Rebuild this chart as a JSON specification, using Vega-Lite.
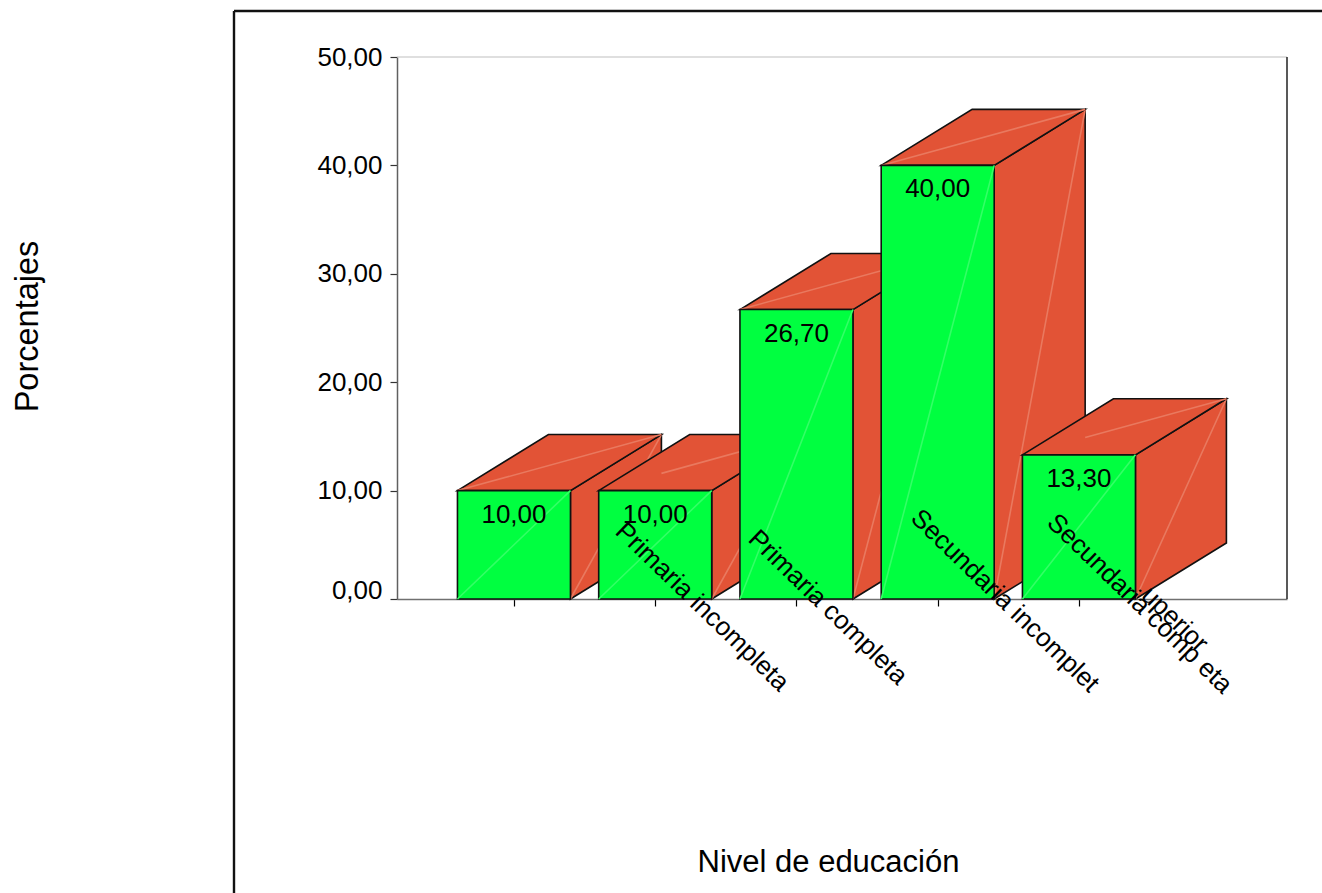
{
  "$schema": "https://vega.github.io/schema/vega-lite/v6.json",
  "width": 890,
  "height": 542,
  "autosize": {"type": "none"},
  "padding": {"left": 397, "top": 57, "right": 35, "bottom": 294},
  "background": "white",
  "config": {"view": {"stroke": null}, "text": {"font": "Liberation Sans"}},
  "encoding": {
    "x": {
      "field": "x", "type": "quantitative",
      "scale": {"domain": [0.172, 6.473], "nice": false, "zero": false},
      "axis": {
        "title": "Nivel de educación", "titleFont": "Liberation Sans", "titleFontSize": 31, "titleFontWeight": "normal", "titleColor": "#000",
        "titleX": 431, "titleY": 263, "titleAlign": "center", "titleBaseline": "middle",
        "values": [1, 2, 3, 4, 5], "labels": false, "grid": false,
        "tickColor": "#000", "tickSize": 7, "tickWidth": 1.2, "domainColor": "#707070", "domainWidth": 1.5
      }
    },
    "y": {
      "field": "y", "type": "quantitative",
      "scale": {"domain": [0, 50], "nice": false},
      "axis": {
        "title": "Porcentajes", "titleFont": "Liberation Sans", "titleFontSize": 32.5, "titleFontWeight": "normal", "titleColor": "#000",
        "titleAngle": -90, "titleX": -370, "titleY": 269, "titleAlign": "center", "titleBaseline": "middle",
        "values": [0, 10, 20, 30, 40, 50], "grid": false,
        "labelExpr": "replace(format(datum.value, '.2f'), '.', ',')",
        "labelFont": "Liberation Sans", "labelFontSize": 26, "labelColor": "#000", "labelPadding": 8,
        "labelOffset": {"condition": {"test": "datum.value == 0", "value": -9}, "value": 0},
        "tickColor": "#333", "tickSize": 7, "tickWidth": 1.2, "domainColor": "#606060", "domainWidth": 1.5
      }
    }
  },
  "layer": [
    {
      "description": "Outer frame: top edge",
      "data": {"values": [{"x": -0.982, "x2": 6.75, "y": 54.24}]},
      "mark": {"type": "rule", "color": "#111", "strokeWidth": 2.4},
      "encoding": {"x2": {"field": "x2"}}
    },
    {
      "description": "Outer frame: left edge",
      "data": {"values": [{"x": -0.982, "y": 54.24, "y2": -28}]},
      "mark": {"type": "rule", "color": "#111", "strokeWidth": 2.4},
      "encoding": {"y2": {"field": "y2"}}
    },
    {
      "description": "Plot border, top",
      "data": {"values": [{"x": 0.172, "x2": 6.473, "y": 50}]},
      "mark": {"type": "rule", "color": "#c0c0c0", "strokeWidth": 1.2},
      "encoding": {"x2": {"field": "x2"}}
    },
    {
      "description": "Plot border, right",
      "data": {"values": [{"x": 6.473, "y": 50, "y2": 0}]},
      "mark": {"type": "rule", "color": "#222", "strokeWidth": 1.5},
      "encoding": {"y2": {"field": "y2"}}
    },
    {
      "description": "Extruded bars: side, top and front of each bar in painter's order, with the thin seams across each face",
      "data": {"values": [
        {"bar":1,"face":"side","x":1.4,"y":10,"y2":0},{"bar":1,"face":"side","x":2.044,"y":15.17,"y2":5.17},
        {"bar":1,"face":"seamRed","x":1.4,"y":0,"y2":0},{"bar":1,"face":"seamRed","x":2.044,"y":15.17,"y2":15.17},
        {"bar":1,"face":"top","x":0.6,"y":10,"y2":10},{"bar":1,"face":"top","x":1.244,"y":15.17,"y2":10},{"bar":1,"face":"top","x":1.4,"y":15.17,"y2":10},{"bar":1,"face":"top","x":2.044,"y":15.17,"y2":15.17},
        {"bar":1,"face":"seamTop","x":0.6,"y":10,"y2":10},{"bar":1,"face":"seamTop","x":2.044,"y":15.17,"y2":15.17},
        {"bar":1,"face":"front","x":0.6,"y":10,"y2":0},{"bar":1,"face":"front","x":1.4,"y":10,"y2":0},
        {"bar":1,"face":"seamGreen","x":0.6,"y":0,"y2":0},{"bar":1,"face":"seamGreen","x":1.4,"y":10,"y2":10},

        {"bar":2,"face":"side","x":2.4,"y":10,"y2":0},{"bar":2,"face":"side","x":3.044,"y":15.17,"y2":5.17},
        {"bar":2,"face":"seamRed","x":2.4,"y":0,"y2":0},{"bar":2,"face":"seamRed","x":3.044,"y":15.17,"y2":15.17},
        {"bar":2,"face":"top","x":1.6,"y":10,"y2":10},{"bar":2,"face":"top","x":2.244,"y":15.17,"y2":10},{"bar":2,"face":"top","x":2.4,"y":15.17,"y2":10},{"bar":2,"face":"top","x":3.044,"y":15.17,"y2":15.17},
        {"bar":2,"face":"seamTop","x":2.044,"y":11.59,"y2":11.59},{"bar":2,"face":"seamTop","x":3.044,"y":15.17,"y2":15.17},
        {"bar":2,"face":"front","x":1.6,"y":10,"y2":0},{"bar":2,"face":"front","x":2.4,"y":10,"y2":0},
        {"bar":2,"face":"seamGreen","x":1.6,"y":0,"y2":0},{"bar":2,"face":"seamGreen","x":2.4,"y":10,"y2":10},

        {"bar":3,"face":"side","x":3.4,"y":26.7,"y2":0},{"bar":3,"face":"side","x":4.044,"y":31.87,"y2":5.17},
        {"bar":3,"face":"seamRed","x":3.4,"y":0,"y2":0},{"bar":3,"face":"seamRed","x":4.044,"y":31.87,"y2":31.87},
        {"bar":3,"face":"top","x":2.6,"y":26.7,"y2":26.7},{"bar":3,"face":"top","x":3.244,"y":31.87,"y2":26.7},{"bar":3,"face":"top","x":3.4,"y":31.87,"y2":26.7},{"bar":3,"face":"top","x":4.044,"y":31.87,"y2":31.87},
        {"bar":3,"face":"seamTop","x":2.6,"y":26.7,"y2":26.7},{"bar":3,"face":"seamTop","x":4.044,"y":31.87,"y2":31.87},
        {"bar":3,"face":"front","x":2.6,"y":26.7,"y2":0},{"bar":3,"face":"front","x":3.4,"y":26.7,"y2":0},
        {"bar":3,"face":"seamGreen","x":2.6,"y":0,"y2":0},{"bar":3,"face":"seamGreen","x":3.4,"y":26.7,"y2":26.7},

        {"bar":4,"face":"side","x":4.4,"y":40,"y2":0},{"bar":4,"face":"side","x":5.044,"y":45.17,"y2":5.17},
        {"bar":4,"face":"seamRed","x":4.4,"y":0,"y2":0},{"bar":4,"face":"seamRed","x":5.044,"y":45.17,"y2":45.17},
        {"bar":4,"face":"top","x":3.6,"y":40,"y2":40},{"bar":4,"face":"top","x":4.244,"y":45.17,"y2":40},{"bar":4,"face":"top","x":4.4,"y":45.17,"y2":40},{"bar":4,"face":"top","x":5.044,"y":45.17,"y2":45.17},
        {"bar":4,"face":"seamTop","x":3.6,"y":40,"y2":40},{"bar":4,"face":"seamTop","x":5.044,"y":45.17,"y2":45.17},
        {"bar":4,"face":"front","x":3.6,"y":40,"y2":0},{"bar":4,"face":"front","x":4.4,"y":40,"y2":0},
        {"bar":4,"face":"seamGreen","x":3.6,"y":0,"y2":0},{"bar":4,"face":"seamGreen","x":4.4,"y":40,"y2":40},

        {"bar":5,"face":"side","x":5.4,"y":13.3,"y2":0},{"bar":5,"face":"side","x":6.044,"y":18.47,"y2":5.17},
        {"bar":5,"face":"seamRed","x":5.4,"y":0,"y2":0},{"bar":5,"face":"seamRed","x":6.044,"y":18.47,"y2":18.47},
        {"bar":5,"face":"top","x":4.6,"y":13.3,"y2":13.3},{"bar":5,"face":"top","x":5.244,"y":18.47,"y2":13.3},{"bar":5,"face":"top","x":5.4,"y":18.47,"y2":13.3},{"bar":5,"face":"top","x":6.044,"y":18.47,"y2":18.47},
        {"bar":5,"face":"seamTop","x":5.044,"y":14.89,"y2":14.89},{"bar":5,"face":"seamTop","x":6.044,"y":18.47,"y2":18.47},
        {"bar":5,"face":"front","x":4.6,"y":13.3,"y2":0},{"bar":5,"face":"front","x":5.4,"y":13.3,"y2":0},
        {"bar":5,"face":"seamGreen","x":4.6,"y":0,"y2":0},{"bar":5,"face":"seamGreen","x":5.4,"y":13.3,"y2":13.3}
      ]},
      "mark": {"type": "area", "interpolate": "linear", "opacity": 1},
      "encoding": {
        "y": {"field": "y", "type": "quantitative", "stack": null},
        "y2": {"field": "y2"},
        "detail": [{"field": "bar"}, {"field": "face"}],
        "fill": {
          "field": "face", "type": "nominal", "legend": null,
          "scale": {
            "domain": ["side", "top", "front", "seamRed", "seamTop", "seamGreen"],
            "range": ["#E25336", "#E25336", "#00FF40", "#E9795F", "#E9795F", "#33FF66"]
          }
        },
        "stroke": {
          "field": "face", "type": "nominal", "legend": null,
          "scale": {
            "domain": ["side", "top", "front", "seamRed", "seamTop", "seamGreen"],
            "range": ["#111111", "#111111", "#111111", "#E9795F", "#E9795F", "#33FF66"]
          }
        },
        "strokeWidth": {
          "field": "face", "type": "nominal", "legend": null,
          "scale": {
            "domain": ["side", "top", "front", "seamRed", "seamTop", "seamGreen"],
            "range": [1.6, 1.6, 1.6, 0.5, 0.5, 0.5]
          }
        }
      }
    },
    {
      "description": "Value printed inside each bar",
      "data": {"values": [
        {"x": 1, "y": 10, "label": "10,00"},
        {"x": 2, "y": 10, "label": "10,00"},
        {"x": 3, "y": 26.7, "label": "26,70"},
        {"x": 4, "y": 40, "label": "40,00"},
        {"x": 5, "y": 13.3, "label": "13,30"}
      ]},
      "mark": {"type": "text", "font": "Liberation Sans", "fontSize": 26, "color": "#000", "align": "center", "baseline": "alphabetic", "dy": 32},
      "encoding": {"text": {"field": "label"}}
    },
    {
      "description": "Slanted category names",
      "data": {"values": [
        {"x": 1.708, "y": 6.1, "label": "Primaria incompleta"},
        {"x": 2.65, "y": 5.4, "label": "Primaria completa"},
        {"x": 3.8, "y": 7.3, "label": "Secundaria incomplet"},
        {"x": 4.765, "y": 6.9, "label": "Secundaria comp eta"},
        {"x": 5.432, "y": 0.18, "label": "uperior"}
      ]},
      "mark": {"type": "text", "font": "Liberation Sans", "fontSize": 26, "color": "#000", "align": "left", "baseline": "alphabetic", "angle": 44},
      "encoding": {"text": {"field": "label"}}
    }
  ]
}
